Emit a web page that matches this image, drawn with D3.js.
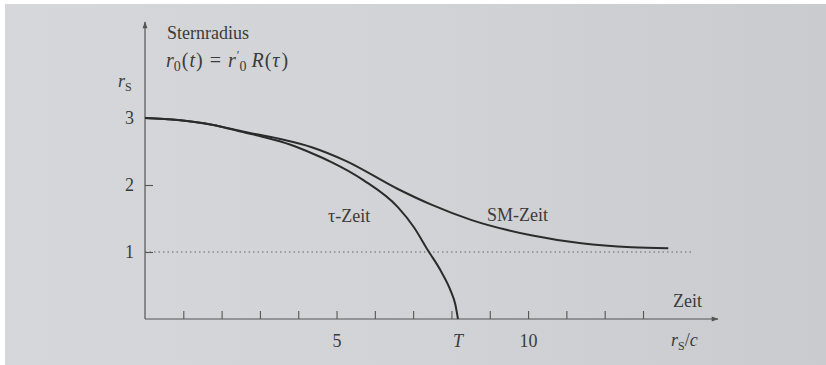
<!DOCTYPE html>
<html>
<head>
<meta charset="utf-8">
<script src="https://cdn.jsdelivr.net/npm/d3@7"></script>
<style>
  body { margin: 0; background: #fff; }
  svg text { font-family: "Liberation Serif", "DejaVu Serif", serif; fill: #3b3b3b; }
</style>
</head>
<body>
<div id="chart"></div>
<script>
// data (time in r_S/c, radius in r_S)
const tauTime   = [0, 0.86, 1.75, 2.62, 3.06, 3.80, 4.37, 4.84, 5.71, 6.60, 7.02, 7.38, 7.72, 7.98, 8.10, 8.17];
const tauRadius = [3, 2.97, 2.90, 2.78, 2.72, 2.60, 2.47, 2.35, 2.07, 1.67, 1.37, 1.03, 0.72, 0.42, 0.22, 0];
const smTime    = [0, 0.86, 1.75, 2.62, 3.50, 4.37, 5.24, 6.60, 7.46, 8.51, 10.08, 11.39, 12.70, 13.66];
const smRadius  = [3, 2.97, 2.90, 2.79, 2.69, 2.56, 2.36, 1.94, 1.71, 1.48, 1.25, 1.13, 1.07, 1.055];
const xTicks = [1, 2, 3, 4, 5, 6, 7, 8, 9, 10, 11, 12, 13];
const xTickLabels = {5: "5", 10: "10"};
const yTicks = [1, 2, 3];
const horizonRadius = 1;
const tauEnd = 8.17;

const W = 826, H = 365;
const svg = d3.select("#chart").append("svg")
    .attr("width", W)
    .attr("height", H);

// photographed page background
const defs = svg.append("defs");
const grad = defs.append("linearGradient").attr("id", "paper")
    .attr("x1", 0).attr("x2", 1).attr("y1", 0).attr("y2", 0);
grad.append("stop").attr("offset", 0).attr("stop-color", "#d5d7da");
grad.append("stop").attr("offset", 0.5).attr("stop-color", "#d1d3d6");
grad.append("stop").attr("offset", 1).attr("stop-color", "#c9cbcf");
svg.append("rect").attr("x", 5).attr("y", 4).attr("width", W - 5).attr("height", H - 4)
    .attr("fill", "url(#paper)");

defs.append("marker").attr("id", "arrow")
    .attr("viewBox", "0 0 10 10").attr("refX", 9).attr("refY", 5)
    .attr("markerWidth", 9).attr("markerHeight", 7).attr("markerUnits", "userSpaceOnUse")
    .attr("orient", "auto")
  .append("path").attr("d", "M0,1.5 L10,5 L0,8.5 Z").attr("fill", "#555");

const x = d3.scaleLinear().domain([0, 13]).range([145, 643]);
const y = d3.scaleLinear().domain([0, 3]).range([319, 118]);

// axis lines with arrows
svg.append("line")
    .attr("x1", x(0)).attr("x2", 718).attr("y1", y(0)).attr("y2", y(0))
    .attr("stroke", "#555").attr("stroke-width", 1.2).attr("marker-end", "url(#arrow)");
svg.append("line")
    .attr("x1", x(0)).attr("x2", x(0)).attr("y1", y(0)).attr("y2", 22)
    .attr("stroke", "#555").attr("stroke-width", 1.2).attr("marker-end", "url(#arrow)");

// x axis ticks
const gx = svg.append("g")
    .attr("transform", `translate(0, ${y(0)})`)
    .call(d3.axisBottom(x).tickValues(xTicks).tickSize(-8).tickPadding(15)
        .tickFormat(d => xTickLabels[d] || ""));
gx.select(".domain").remove();
gx.selectAll("line").attr("stroke", "#555").attr("stroke-width", 1.1);
gx.selectAll("text").style("font-size", "18px").attr("fill", "#3b3b3b");

// y axis ticks
const gy = svg.append("g")
    .attr("transform", `translate(${x(0)}, 0)`)
    .call(d3.axisLeft(y).tickValues(yTicks).tickSize(-8).tickPadding(11).tickFormat(d3.format("d")));
gy.select(".domain").remove();
gy.selectAll("line").attr("stroke", "#555").attr("stroke-width", 1.1);
gy.selectAll("text").style("font-size", "18px").attr("fill", "#3b3b3b");

// dotted line at r = r_S
svg.append("line")
    .attr("x1", x(0)).attr("x2", 692)
    .attr("y1", y(horizonRadius)).attr("y2", y(horizonRadius))
    .attr("stroke", "#666").attr("stroke-width", 1.1).attr("stroke-dasharray", "1.5,3");

// curves
const line = d3.line()
    .x(d => x(d[0]))
    .y(d => y(d[1]))
    .curve(d3.curveMonotoneX);

svg.append("path")
    .datum(d3.zip(smTime, smRadius))
    .attr("d", line)
    .attr("fill", "none").attr("stroke", "#2b2b2b").attr("stroke-width", 2);

svg.append("path")
    .datum(d3.zip(tauTime, tauRadius))
    .attr("d", line)
    .attr("fill", "none").attr("stroke", "#2b2b2b").attr("stroke-width", 2);

// labels
const label = (tx, ty, anchor) => svg.append("text")
    .attr("x", tx).attr("y", ty).attr("text-anchor", anchor || "start")
    .style("font-size", "18px");

label(167, 39).text("Sternradius");

// formula r0(t) = r'0 R(tau)
const f = label(166, 67).style("font-size", "20px");
f.append("tspan").style("font-style", "italic").text("r");
f.append("tspan").attr("dy", 4).style("font-size", "14px").text("0");
f.append("tspan").attr("dy", -4).attr("dx", 1).text("(");
f.append("tspan").attr("dx", 1).style("font-style", "italic").text("t");
f.append("tspan").attr("dx", 1).text(")");
f.append("tspan").attr("dx", 7).text("=");
f.append("tspan").attr("dx", 7).style("font-style", "italic").text("r");
f.append("tspan").attr("dy", -8).attr("dx", 1).style("font-size", "12px").text("′");
f.append("tspan").attr("dy", 12).style("font-size", "14px").text("0");
f.append("tspan").attr("dy", -4).attr("dx", 5).style("font-style", "italic").text("R");
f.append("tspan").attr("dx", 1).text("(");
f.append("tspan").attr("dx", 1).style("font-style", "italic").text("τ");
f.append("tspan").attr("dx", 2).text(")");

const rs = label(118, 87);
rs.append("tspan").style("font-style", "italic").text("r");
rs.append("tspan").attr("dy", 4).style("font-size", "12px").text("S");

label(328, 222).text("τ-Zeit");
label(487, 221).text("SM-Zeit");
label(673, 307).text("Zeit");

label(x(tauEnd), 347, "middle").style("font-style", "italic").text("T");

const rc = label(671, 346);
rc.append("tspan").style("font-style", "italic").text("r");
rc.append("tspan").attr("dy", 4).style("font-size", "12px").text("S");
rc.append("tspan").attr("dy", -4).text("/");
rc.append("tspan").style("font-style", "italic").text("c");
</script>
</body>
</html>
